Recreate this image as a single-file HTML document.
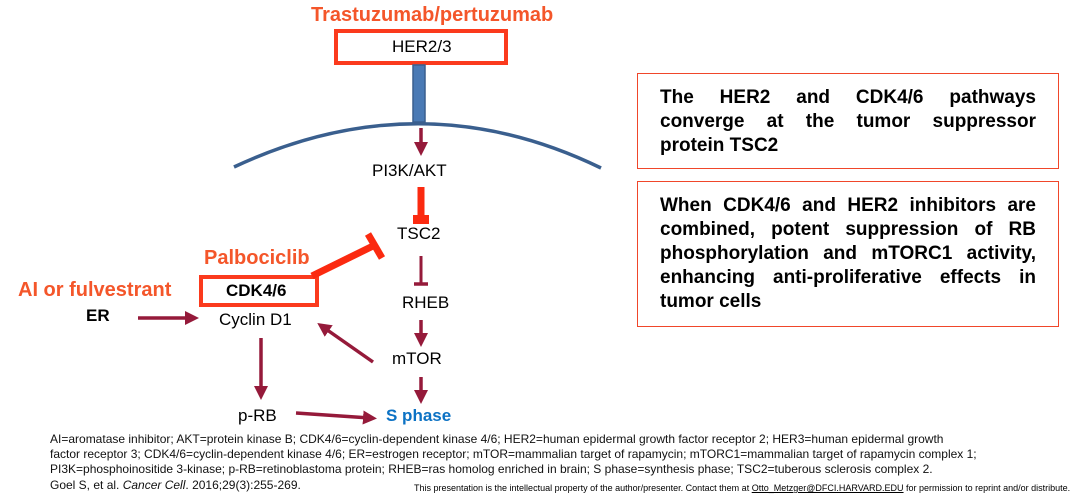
<!DOCTYPE html>
<html><head><meta charset="utf-8"><style>
body{margin:0;width:1080px;height:496px;background:#fff;position:relative;overflow:hidden;font-family:"Liberation Sans",Arial,sans-serif}
.t{position:absolute;white-space:nowrap;line-height:1}
.box{position:absolute;border:1.5px solid #f0462a;box-sizing:border-box}
.bt{position:absolute;left:22px;width:376px;font-weight:bold;font-size:19px;line-height:24px;text-align:justify;color:#000}
.fn{position:absolute;left:50px;font-size:12px;color:#111;white-space:nowrap;transform-origin:left;line-height:1}
</style></head><body>
<svg width="1080" height="496" style="position:absolute;left:0;top:0">
<defs><marker id="a" markerWidth="4" markerHeight="4" refX="2" refY="2" orient="auto"><path d="M0,0L4,2L0,4z" fill="#951a3a"/></marker></defs>
<rect x="336" y="31" width="170" height="32" fill="none" stroke="#fb3a1d" stroke-width="4"/>
<rect x="201" y="277" width="116" height="28" fill="none" stroke="#fb3a1d" stroke-width="4"/>
<path d="M234,167 Q420,80 601,168" fill="none" stroke="#3a5f8e" stroke-width="3.5"/>
<rect x="413" y="65" width="12" height="57" fill="#4a7ab5" stroke="#3a5f8e" stroke-width="1.5"/>
<g stroke="#951a3a" stroke-width="3.5" fill="none" marker-end="url(#a)">
<line x1="421" y1="128" x2="421" y2="149"/>
<line x1="421" y1="320" x2="421" y2="340"/>
<line x1="421" y1="377" x2="421" y2="397"/>
<line x1="138" y1="318" x2="192" y2="318"/>
<line x1="373" y1="362" x2="323" y2="327"/>
<line x1="261" y1="338" x2="261" y2="393"/>
<line x1="296" y1="413" x2="370" y2="418"/>
</g>
<line x1="421" y1="187" x2="421" y2="215" stroke="#fb2a10" stroke-width="7"/>
<rect x="413" y="215" width="16" height="9" fill="#fb2a10"/>
<line x1="421" y1="256" x2="421" y2="284" stroke="#951a3a" stroke-width="3"/>
<line x1="414" y1="284" x2="428" y2="284" stroke="#951a3a" stroke-width="3.5"/>
<line x1="312" y1="276" x2="375" y2="245" stroke="#fb2a10" stroke-width="7"/>
<line x1="368" y1="234" x2="382" y2="258" stroke="#fb2a10" stroke-width="7"/>
</svg>
<div class="t" style="left:311px;top:5px;font-size:20px;font-weight:bold;color:#f4562a">Trastuzumab/pertuzumab</div>
<div class="t" style="left:392px;top:38px;font-size:17px">HER2/3</div>
<div class="t" style="left:372px;top:162px;font-size:17px">PI3K/AKT</div>
<div class="t" style="left:397px;top:225px;font-size:17px">TSC2</div>
<div class="t" style="left:204px;top:248px;font-size:20px;font-weight:bold;color:#f4562a">Palbociclib</div>
<div class="t" style="left:226px;top:282px;font-size:17px;font-weight:bold">CDK4/6</div>
<div class="t" style="left:18px;top:280px;font-size:20px;font-weight:bold;color:#f4562a">AI or fulvestrant</div>
<div class="t" style="left:86px;top:307px;font-size:17px;font-weight:bold">ER</div>
<div class="t" style="left:219px;top:311px;font-size:17px">Cyclin D1</div>
<div class="t" style="left:402px;top:294px;font-size:17px">RHEB</div>
<div class="t" style="left:392px;top:350px;font-size:17px">mTOR</div>
<div class="t" style="left:238px;top:407px;font-size:17px">p-RB</div>
<div class="t" style="left:386px;top:407px;font-size:17px;font-weight:bold;color:#0c72c4">S phase</div>
<div class="box" style="left:637px;top:73px;width:422px;height:96px"><div class="bt" style="top:12px">The HER2 and CDK4/6 pathways converge at the tumor suppressor protein TSC2</div></div>
<div class="box" style="left:637px;top:181px;width:422px;height:146px"><div class="bt" style="top:12px">When CDK4/6 and HER2 inhibitors are combined, potent suppression of RB phosphorylation and mTORC1 activity, enhancing anti-proliferative effects in tumor cells</div></div>
<div class="fn" style="top:433px">AI=aromatase inhibitor; AKT=protein kinase B; CDK4/6=cyclin-dependent kinase 4/6; HER2=human epidermal growth factor receptor 2; HER3=human epidermal growth</div>
<div class="fn" style="top:448px">factor receptor 3; CDK4/6=cyclin-dependent kinase 4/6; ER=estrogen receptor; mTOR=mammalian target of rapamycin; mTORC1=mammalian target of rapamycin complex 1;</div>
<div class="fn" style="top:463px">PI3K=phosphoinositide 3-kinase; p-RB=retinoblastoma protein; RHEB=ras homolog enriched in brain; S phase=synthesis phase; TSC2=tuberous sclerosis complex 2.</div>
<div class="fn" style="top:479px">Goel S, et al. <i>Cancer Cell</i>. 2016;29(3):255-269.</div>
<div class="t" style="left:414px;top:484px;font-size:9px">This presentation is the intellectual property of the author/presenter. Contact them at <u>Otto_Metzger@DFCI.HARVARD.EDU</u> for permission to reprint and/or distribute.</div>
</body></html>
